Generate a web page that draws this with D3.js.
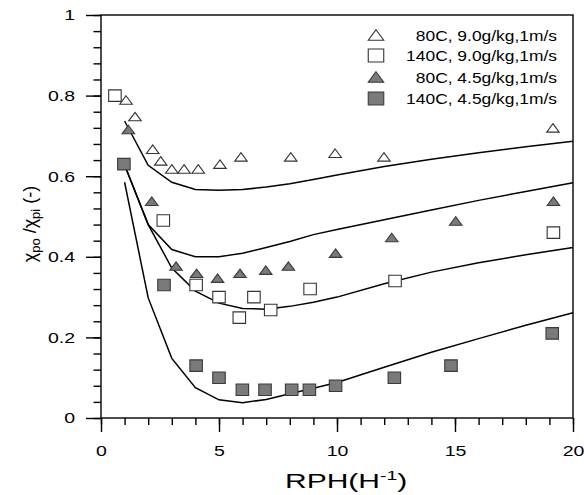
<!doctype html>
<html>
<head>
  <script src="https://d3js.org/d3.v7.min.js"></script>
  <style>
  body { margin: 0; background: #fff; }
  svg { font-family: "Liberation Sans", Arial, sans-serif; }
  .axis path { display: none; }
  .axis line { stroke: #000; stroke-width: 1.4; }
  .axis text { font-size: 15px; fill: #000; }
  .frame { fill: none; stroke: #000; stroke-width: 1.4; }
  .curve { fill: none; stroke: #000; stroke-width: 1.5; }
  </style>
</head>
<body>
<script>
var rphOpenTri  = [1.06, 1.44, 2.19, 2.53, 3.0, 3.52, 4.12, 5.04, 5.93, 8.04, 9.92, 11.99, 19.15];
var chiOpenTri  = [0.789, 0.748, 0.667, 0.638, 0.618, 0.618, 0.618, 0.63, 0.648, 0.648, 0.657, 0.648, 0.72];

var rphOpenSq   = [0.59, 2.64, 4.03, 5.0, 5.86, 6.48, 7.19, 8.86, 12.46, 19.17];
var chiOpenSq   = [0.80, 0.49, 0.33, 0.30, 0.249, 0.30, 0.268, 0.32, 0.34, 0.46];

var rphFillTri  = [1.16, 2.15, 3.18, 4.05, 4.94, 5.89, 6.98, 7.94, 9.94, 12.32, 15.03, 19.17];
var chiFillTri  = [0.716, 0.538, 0.377, 0.359, 0.347, 0.359, 0.367, 0.377, 0.409, 0.448, 0.489, 0.538];

var rphFillSq   = [0.97, 2.67, 4.03, 5.0, 5.99, 6.95, 8.08, 8.83, 9.94, 12.43, 14.83, 19.12];
var chiFillSq   = [0.63, 0.33, 0.13, 0.10, 0.07, 0.07, 0.07, 0.07, 0.08, 0.10, 0.13, 0.21];

// model curves
var rphModel    = [1, 2, 3, 4, 5, 6, 7, 8, 9, 10, 12, 14, 16, 18, 20];
var chiModel1   = [0.737, 0.627, 0.585, 0.567, 0.565, 0.567, 0.573, 0.581, 0.592, 0.603, 0.624, 0.642, 0.658, 0.673, 0.687];
var chiModel2   = [0.628, 0.48, 0.418, 0.40, 0.40, 0.409, 0.423, 0.438, 0.455, 0.468, 0.492, 0.516, 0.540, 0.562, 0.584];
var chiModel3   = [0.628, 0.48, 0.372, 0.315, 0.285, 0.272, 0.27, 0.277, 0.287, 0.30, 0.333, 0.362, 0.385, 0.405, 0.423];
var chiModel4   = [0.585, 0.298, 0.148, 0.075, 0.045, 0.038, 0.046, 0.06, 0.074, 0.088, 0.126, 0.163, 0.197, 0.23, 0.261];

var legendLabels = ["80C, 9.0g/kg,1m/s", "140C, 9.0g/kg,1m/s", "80C, 4.5g/kg,1m/s", "140C, 4.5g/kg,1m/s"];

var xMajor = [0, 5, 10, 15, 20];
var yMajor = [0, 0.2, 0.4, 0.6, 0.8, 1];

var width = 584, height = 495;

var x = d3.scaleLinear().domain([0, 20]).range([101, 573]);
var y = d3.scaleLinear().domain([0, 1]).range([418, 15]);

var svg = d3.select("body").append("svg")
    .attr("width", width)
    .attr("height", height);

// widen glyphs like the original rendering
function stretch(sel, k) {
  sel.each(function() {
    var w = this.getComputedTextLength();
    d3.select(this).attr("textLength", w * k).attr("lengthAdjust", "spacingAndGlyphs");
  });
}

// minor ticks
svg.append("g")
    .attr("class", "axis")
    .attr("transform", "translate(0," + y(0) + ")")
    .call(d3.axisBottom(x).tickValues(d3.range(0, 21, 1)).tickSize(7).tickFormat(""));
svg.append("g")
    .attr("class", "axis")
    .attr("transform", "translate(" + x(0) + ",0)")
    .call(d3.axisLeft(y).tickValues(d3.range(0, 26).map(function(i) { return i * 0.04; })).tickSize(7.5).tickFormat(""));

// major ticks
var xAx = svg.append("g")
    .attr("class", "axis")
    .attr("transform", "translate(0," + y(0) + ")")
    .call(d3.axisBottom(x).tickValues(xMajor).tickSize(14).tickPadding(13).tickFormat(d3.format("d")));
var yAx = svg.append("g")
    .attr("class", "axis")
    .attr("transform", "translate(" + x(0) + ",0)")
    .call(d3.axisLeft(y).tickValues(yMajor).tickSize(15).tickPadding(11).tickFormat(d3.format("~g")));
stretch(xAx.selectAll("text"), 1.3);
stretch(yAx.selectAll("text"), 1.3);

svg.append("rect")
    .attr("class", "frame")
    .attr("x", x(0))
    .attr("y", y(1))
    .attr("width", x(20) - x(0))
    .attr("height", y(0) - y(1));

// model lines
var line = d3.line()
    .x(function(d) { return x(d[0]); })
    .y(function(d) { return y(d[1]); });

[chiModel1, chiModel2, chiModel3, chiModel4].forEach(function(ys) {
  svg.append("path")
      .attr("class", "curve")
      .attr("d", line(d3.zip(rphModel, ys)));
});

function triPath(w, h) {
  return "M0," + (-h / 2) + "L" + (w / 2) + "," + (h / 2) + "L" + (-w / 2) + "," + (h / 2) + "Z";
}
function sqPath(w, h) {
  return "M" + (-w / 2) + "," + (-h / 2) + "h" + w + "v" + h + "h" + (-w) + "Z";
}

var series = [
  {xs: rphOpenTri, ys: chiOpenTri, shape: "tri", fill: "#fff", stroke: "#333"},
  {xs: rphOpenSq,  ys: chiOpenSq,  shape: "sq",  fill: "#fff", stroke: "#333"},
  {xs: rphFillTri, ys: chiFillTri, shape: "tri", fill: "#7a7a7a", stroke: "#3a3a3a"},
  {xs: rphFillSq,  ys: chiFillSq,  shape: "sq",  fill: "#7a7a7a", stroke: "#3a3a3a"}
];

series.forEach(function(s) {
  var d = s.shape === "tri" ? triPath(12.5, 8.5) : sqPath(12.5, 11.5);
  svg.append("g").selectAll("path")
      .data(d3.zip(s.xs, s.ys))
    .enter().append("path")
      .attr("d", d)
      .attr("transform", function(p) { return "translate(" + x(p[0]) + "," + y(p[1]) + ")"; })
      .attr("fill", s.fill)
      .attr("stroke", s.stroke)
      .attr("stroke-width", 1.1);
});

// legend
var legY = [35, 55.5, 77, 98.5];
var leg = svg.append("g");
series.forEach(function(s, i) {
  leg.append("path")
      .attr("d", s.shape === "tri" ? triPath(15.5, 10.5) : sqPath(15.5, 13))
      .attr("transform", "translate(376," + legY[i] + ")")
      .attr("fill", s.fill)
      .attr("stroke", s.stroke)
      .attr("stroke-width", 1.1);
  leg.append("text")
      .attr("x", 557)
      .attr("y", legY[i] + 5.5)
      .attr("text-anchor", "end")
      .style("font-size", "15px")
      .text(legendLabels[i]);
});
stretch(leg.selectAll("text"), 1.16);

// axis titles
var xt = svg.append("text")
    .attr("x", 285)
    .attr("y", 488)
    .style("font-size", "20px");
xt.append("tspan").text("RPH(H");
xt.append("tspan").attr("dy", -8).style("font-size", "13px").text("-1");
xt.append("tspan").attr("dy", 8).text(")");
stretch(xt, 1.5);

var yt = svg.append("text")
    .attr("transform", "translate(36,224) rotate(-90)")
    .attr("text-anchor", "middle")
    .style("font-size", "18px");
yt.append("tspan").text("\u03c7");
yt.append("tspan").attr("dy", 4).style("font-size", "13px").text("po");
yt.append("tspan").attr("dy", -4).text(" /\u03c7");
yt.append("tspan").attr("dy", 4).style("font-size", "13px").text("pi");
yt.append("tspan").attr("dy", -4).text(" (-)");
</script>
</body>
</html>
